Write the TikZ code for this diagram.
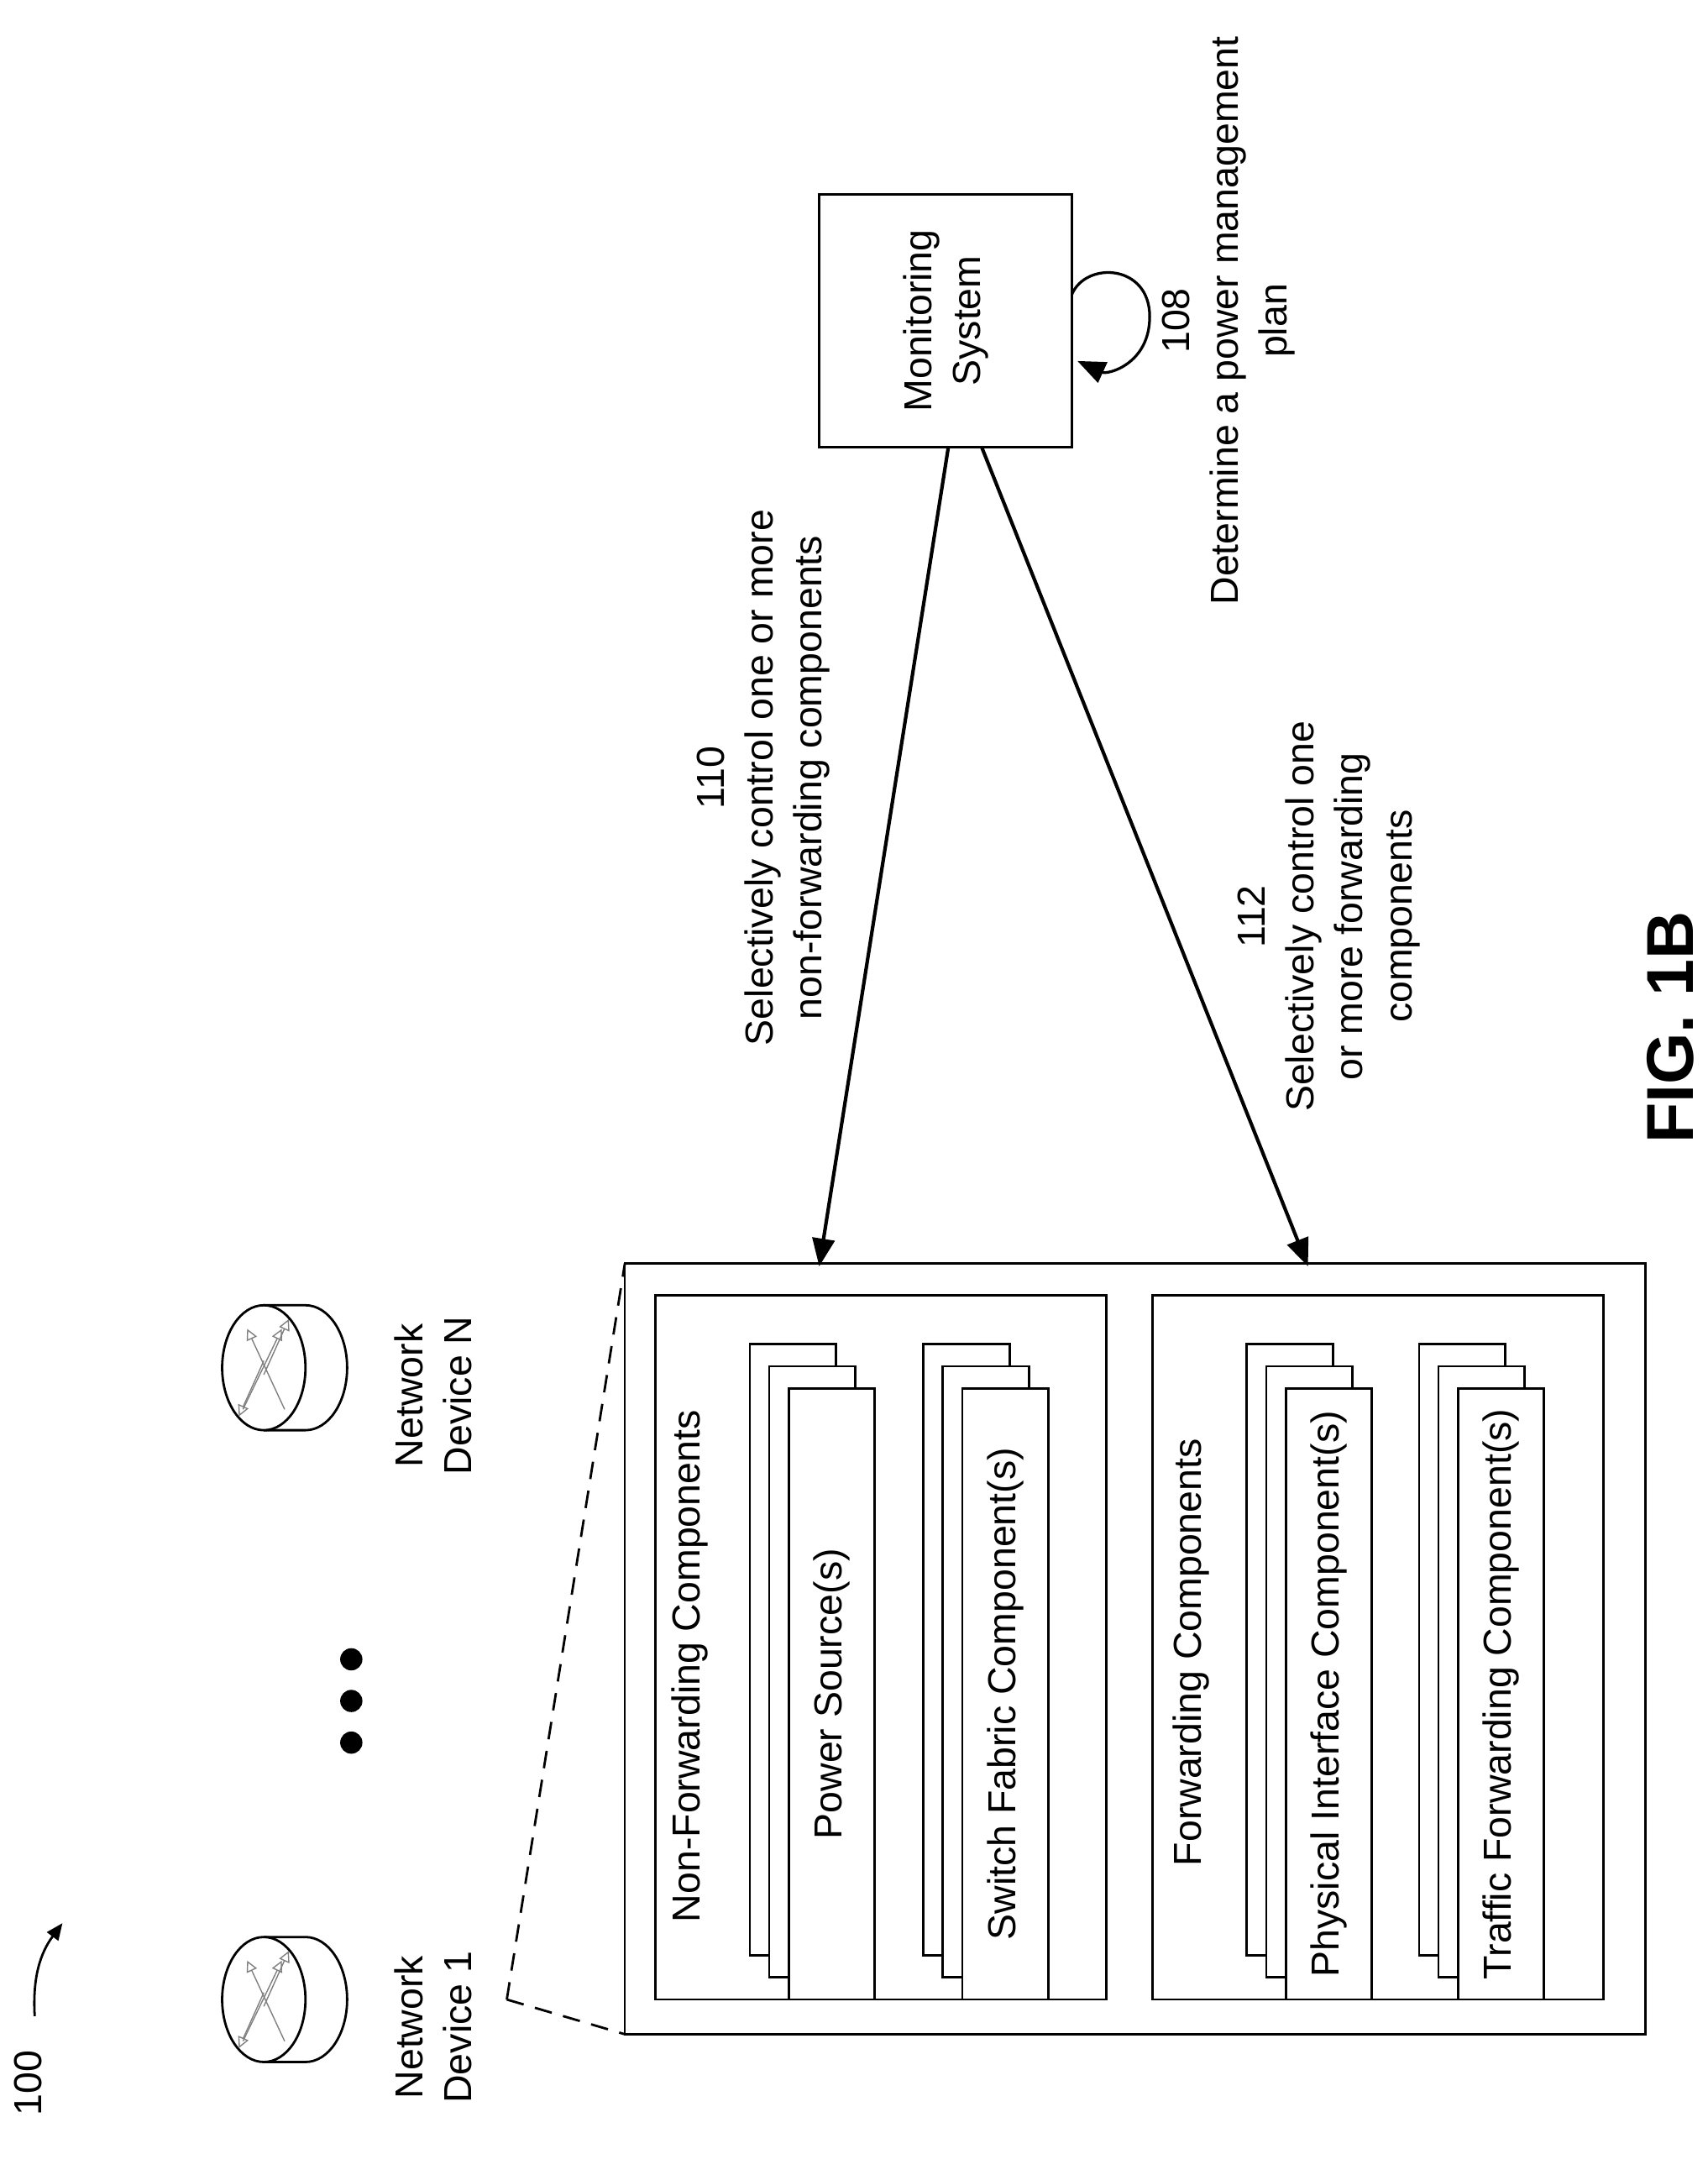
\documentclass[tikz,border=0pt]{standalone}
\usepackage{fontspec}
\setmainfont{Liberation Sans}
\usetikzlibrary{arrows.meta}
\begin{document}
\begin{tikzpicture}[x=0.25mm,y=-0.25mm,line width=1.2pt,
  every node/.style={font=\fontsize{20}{25}\selectfont},
  lbl/.style={rotate=90,align=center,inner sep=0pt},
  card/.style={draw,fill=white},
  arr/.style={-{Triangle[length=5mm,width=4mm]},line width=1.8pt}]
\useasboundingbox (0,0) rectangle (1230,1570);
% monitoring system
\node[draw,rotate=90,minimum width=45.5mm,minimum height=45.5mm,align=center] (mon) at (681,231) {Monitoring\\System};
\coordinate (loop) at (776,260);
\draw[arr,line width=1.4pt] (772,212) .. controls (782,188) and (828,190) .. (828,228) .. controls (828,262) and (798,270) .. (loop);
\node[lbl] (plan) at (885,231) {108\\Determine a power management\\plan};
% outer device box
\draw (450,910) rectangle (1185,1465);
\draw (472,933) rectangle (797,1440);
\draw (830,933) rectangle (1155,1440);
\coordinate (nf) at (590,912);
\coordinate (fw) at (942,912);
\draw[arr] (683,322) -- (nf);
\draw[arr] (707,322) -- (fw);
\node[lbl] (l110) at (550,560) {110\\Selectively control one or more\\non-forwarding components};
\node[lbl] (l112) at (957,660) {112\\Selectively control one\\or more forwarding\\components};
\node[lbl,anchor=center] (nft) at (497,1200) {Non-Forwarding Components};
\node[lbl] (fwt) at (858,1190) {Forwarding Components};
% stacked cards
\foreach \x/\t in {540/Power Source(s),665/Switch Fabric Component(s),898/Physical Interface Component(s),1022/Traffic Forwarding Component(s)}{
  \draw[card] (\x,968) rectangle ++(62,440);
  \draw[card] (\x+14,984) rectangle ++(62,440);
  \draw[card] (\x+28,1000) rectangle ++(62,440);
  \node[lbl] at (\x+59,1220) {\t};
}
% network devices
\foreach \y/\n in {1440/1,985/N}{
  \draw[fill=white] (190,\y-45) -- (220,\y-45) arc[start angle=-90,end angle=90,x radius=30,y radius=45] -- (190,\y+45);
  \draw[fill=white] (190,\y) ellipse[x radius=30,y radius=45];
  \draw[gray,line width=0.6pt,-{Triangle[length=2mm,width=2mm,open]}] (205,\y+30) -- (178,\y-28);
  \draw[gray,line width=0.6pt,-{Triangle[length=2mm,width=2mm,open]}] (175,\y+30) -- (203,\y-28);
  \draw[gray,line width=0.6pt,-{Triangle[length=2mm,width=2mm,open]}] (190,\y-5) -- (172,\y+35);
  \draw[gray,line width=0.6pt,-{Triangle[length=2mm,width=2mm,open]}] (190,\y+5) -- (208,\y-35);
  \node[lbl] (dev\n) at (312,\y+20) {Network\\Device \n};
}
\coordinate (d1) at (365,1440);
\draw[dash pattern=on 9pt off 6pt] (d1) -- (450,910);
\draw[dash pattern=on 9pt off 6pt] (d1) -- (450,1465);
\foreach \y in {1195,1225,1255} \fill (253,\y) circle[radius=8];
% ref numbers
\node[lbl] (n100) at (20,1500) {100};
\draw[-{Triangle[length=3mm,width=2.5mm]}] (25,1452) to[bend left=20] (45,1385);
\node[lbl,font=\bfseries\fontsize{34}{40}\selectfont] (fig) at (1203,740) {FIG. 1B};
\end{tikzpicture}
\end{document}
